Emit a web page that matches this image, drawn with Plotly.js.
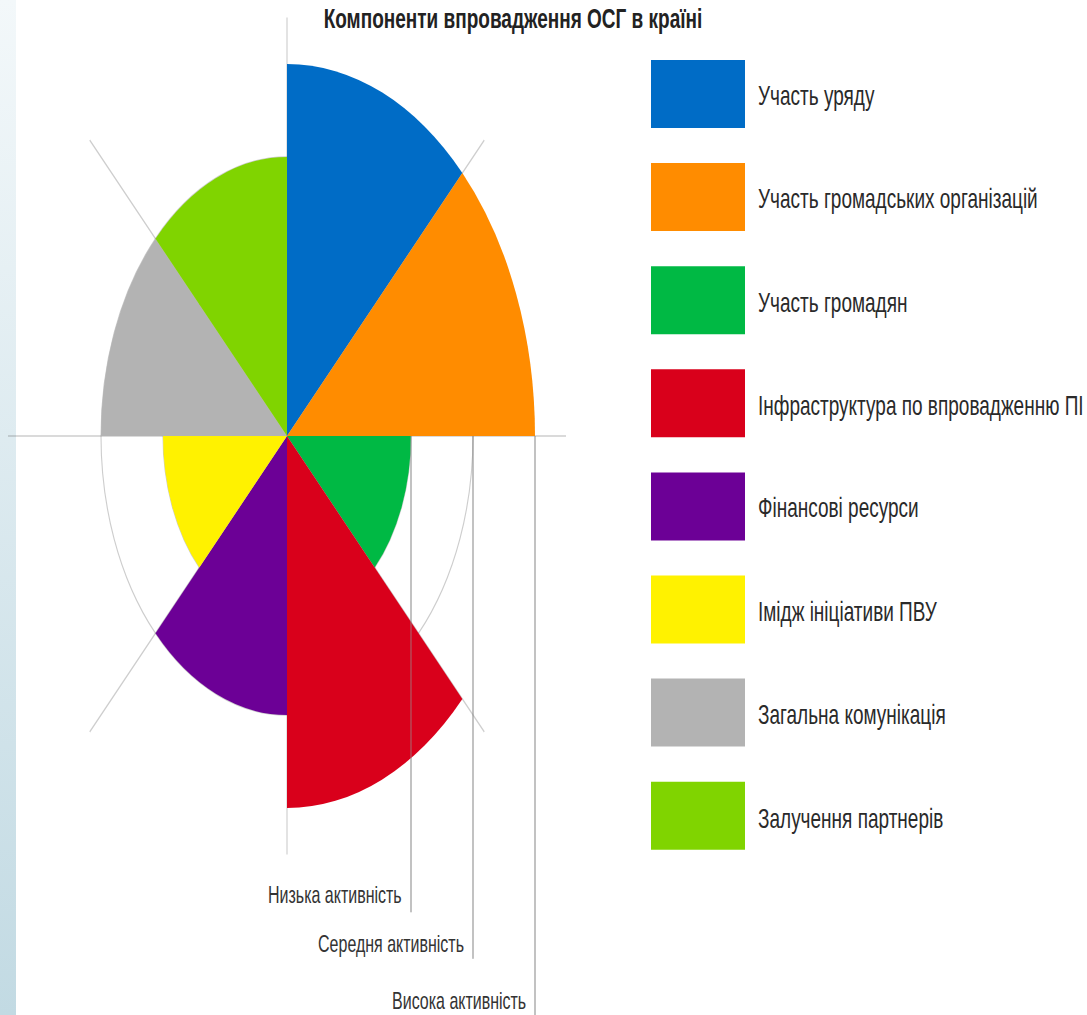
<!DOCTYPE html>
<html>
<head>
<meta charset="utf-8">
<script src="https://cdn.plot.ly/plotly-3.0.1.min.js"></script>
<style>
  html, body { margin:0; padding:0; width:1087px; height:1015px; overflow:hidden; }
  body { background: linear-gradient(to bottom, #f3f8fa, #c2dae3) 0 0 / 16px 100% no-repeat, #ffffff; position:relative; }
  #plot { position:absolute; left:0; top:-30px; width:1087px; height:697px; transform: scaleY(1.5); transform-origin: 0 0; }
</style>
</head>
<body>
<div id="plot"></div>
<script>
// ---- data ----
const titleText = "Компоненти впровадження ОСГ в країні";
const categories = [
  "Участь уряду",
  "Участь громадських організацій",
  "Участь громадян",
  "Інфраструктура по впровадженню ПІ",
  "Фінансові ресурси",
  "Імідж ініціативи ПВУ",
  "Загальна комунікація",
  "Залучення партнерів"
];
const values = [4, 4, 2, 4, 3, 2, 3, 3];
const colors = ["#006cc6", "#ff8c00", "#00b944", "#d9001b", "#6c0096", "#fff200", "#b3b3b3", "#80d400"];
const levelValues = [2, 3, 4];
const levelNames = ["Низька активність", "Середня активність", "Висока активність"];

// ---- layout geometry ----
const W = 1087, H = 697, S = 1.5, TOP = -30;
const cx = 287, cyPage = 436;
const cy = (cyPage - TOP) / S;
const pxPerUnit = 62, Rmax = 4.5, Rpx = Rmax * pxPerUnit;
const domX = [(cx - Rpx) / W, (cx + Rpx) / W];
const domY = [1 - (cy + Rpx) / H, 1 - (cy - Rpx) / H];
const yBottom = Rmax - (domY[1] * H) / pxPerUnit;
const lineEnds = [-5.12, -5.62, -6.4];
const labelY = [-4.93, -5.47, -6.08];

const sector = 360 / categories.length;
const theta = categories.map((c, i) => sector * i + sector / 2);

const dropX = [], dropY = [];
levelValues.forEach((v, i) => { dropX.push(v, v, null); dropY.push(0, lineEnds[i], null); });

const traces = [
  {
    type: "scatter",
    mode: "lines",
    x: dropX,
    y: dropY,
    line: { color: "#c4c4c4", width: 1.2 },
    xaxis: "x", yaxis: "y",
    hoverinfo: "skip",
    showlegend: false,
    cliponaxis: false
  },
  {
    type: "barpolar",
    r: values,
    theta: theta,
    width: categories.map(() => sector),
    text: categories,
    marker: { color: colors, line: { width: 0 } },
    hoverinfo: "text+r",
    showlegend: false
  }
];

const gridCol = "rgba(90,90,90,0.3)";
const shapes = [];
const annotations = [];
levelValues.forEach((v, i) => {
  shapes.push({ type: "line", xref: "x", yref: "y", x0: v, x1: v, y0: 0, y1: lineEnds[i],
    line: { color: "rgba(150,150,150,0.6)", width: 1.2 }, layer: "above" });
  annotations.push({ xref: "x", yref: "y", x: v, y: labelY[i], xanchor: "right", yanchor: "middle",
    xshift: -7, showarrow: false, text: levelNames[i],
    font: { family: "Liberation Sans, Arial, sans-serif", size: 16, color: "#333" } });
});
const legTop = 94, legStep = 103.1, boxH = 68;
const toPaperY = (pageY) => 1 - ((pageY - TOP) / S) / H;
categories.forEach((c, i) => {
  const yc = legTop + i * legStep;
  shapes.push({ type: "rect", xref: "paper", yref: "paper",
    x0: 651 / W, x1: 745 / W, y0: toPaperY(yc + boxH / 2), y1: toPaperY(yc - boxH / 2),
    fillcolor: colors[i], line: { width: 0 }, layer: "above" });
  annotations.push({ xref: "paper", yref: "paper", x: 756 / W, y: toPaperY(yc + 2),
    xanchor: "left", yanchor: "middle", showarrow: false, text: c,
    font: { family: "Liberation Sans, Arial, sans-serif", size: 19, color: "#2a2a2a" } });
});

const layout = {
  width: W, height: H,
  margin: { l: 0, r: 0, t: 0, b: 0, pad: 0 },
  paper_bgcolor: "rgba(0,0,0,0)",
  plot_bgcolor: "rgba(0,0,0,0)",
  font: { family: "Liberation Sans, Arial, sans-serif", color: "#2a2a2a" },
  title: { text: titleText, x: 513 / W, xanchor: "center", y: toPaperY(18), yanchor: "middle",
    font: { family: "Liberation Sans, Arial, sans-serif", size: 19, color: "#222", weight: "bold" } },
  showlegend: false,
  polar: {
    domain: { x: domX, y: domY },
    bgcolor: "rgba(0,0,0,0)",
    bargap: 0,
    radialaxis: {
      range: [0, Rmax], tickvals: [2, 3], showticklabels: false, ticks: "",
      showline: false, gridcolor: gridCol, gridwidth: 1.1, layer: "above traces"
    },
    angularaxis: {
      rotation: 90, direction: "clockwise", tickmode: "array",
      tickvals: categories.map((c, i) => i * sector),
      showticklabels: false, ticks: "", showline: false,
      gridcolor: gridCol, gridwidth: 1.1, layer: "above traces"
    }
  },
  xaxis: { domain: domX, range: [-Rmax, Rmax], visible: false, fixedrange: true },
  yaxis: { domain: [0, domY[1]], range: [yBottom, Rmax], visible: false, fixedrange: true },
  shapes: shapes,
  annotations: annotations
};

Plotly.newPlot("plot", traces, layout, { displayModeBar: false, staticPlot: true });
</script>
</body>
</html>
